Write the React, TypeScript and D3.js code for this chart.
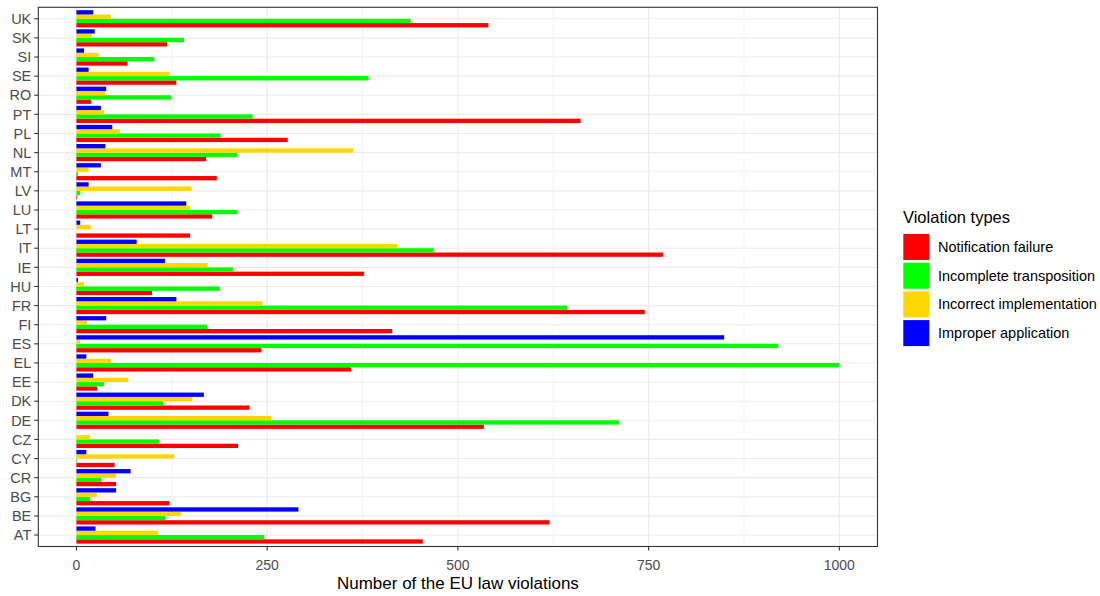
import React from "react";
import * as d3 from "d3";

const countries = ["AT","BE","BG","CR","CY","CZ","DE","DK","EE","EL","ES","FI","FR","HU","IE","IT","LT","LU","LV","MT","NL","PL","PT","RO","SE","SI","SK","UK"];
const seriesNames = ["Notification failure","Incomplete transposition","Incorrect implementation","Improper application"];
const seriesColors = ["#FF0000","#00FF00","#FFD700","#0000FF"];

const notification = [454,620,122,52,50,212,534,227,27,360,242,414,745,99,377,769,149,178,1,184,170,277,661,19,131,67,119,540];
const incomplete =   [246,116,18,33,1,108,711,114,36,1000,920,171,643,188,205,468,0,211,5,2,211,189,231,124,383,102,141,438];
const incorrect =    [107,137,27,52,128,18,255,152,68,45,5,14,244,10,172,421,19,149,151,16,363,57,36,38,122,29,20,45];
const improper =     [25,291,52,71,13,0,42,167,22,13,849,39,131,2,116,79,5,144,16,32,38,47,32,39,16,10,24,22];

const xTicks = [0,250,500,750,1000];
const xMinor = [125,375,625,875];

const W = 1100, H = 596;
const pl = 38.3, pr = 877.5, pt = 7.3, pb = 546.5;

export default function App() {
  const x = d3.scaleLinear().domain([-50, 1050]).range([pl, pr]);
  const y = d3.scaleLinear().domain([0.4, countries.length + 0.6]).range([pb, pt]);
  const inner = d3.scaleBand<number>().domain([0,1,2,3]).range([-0.45, 0.45]);
  const values = [notification, incomplete, incorrect, improper];
  const font = "'Liberation Sans', Arial, Helvetica, sans-serif";
  const bars: any[] = [];
  countries.forEach((c, i) => {
    values.forEach((vals, s) => {
      const v = vals[i];
      const pos = i + 1;
      const y0 = y(pos + inner(s)!);
      const y1 = y(pos + inner(s)! + inner.bandwidth());
      bars.push(
        <rect key={c + s} x={x(0)} width={Math.max(0, x(v) - x(0))} y={y1} height={y0 - y1} fill={seriesColors[s]} />
      );
    });
  });
  const keyY0 = 234, keyPitch = 28.7, keySize = 26;
  return (
    <svg width={W} height={H} style={{ position: "absolute", left: 0, top: 0, fontFamily: font }}>
      <rect x={0} y={0} width={W} height={H} fill="#fff" />
      <rect x={pl} y={pt} width={pr - pl} height={pb - pt} fill="#fff" />
      {xMinor.map(t => <line key={"mi" + t} x1={x(t)} x2={x(t)} y1={pt} y2={pb} stroke="#ebebeb" strokeWidth={0.6} />)}
      {xTicks.map(t => <line key={"ma" + t} x1={x(t)} x2={x(t)} y1={pt} y2={pb} stroke="#ebebeb" strokeWidth={1.1} />)}
      {countries.map((c, i) => <line key={"gy" + c} x1={pl} x2={pr} y1={y(i + 1)} y2={y(i + 1)} stroke="#ebebeb" strokeWidth={1.1} />)}
      {bars}
      <rect x={pl} y={pt} width={pr - pl} height={pb - pt} fill="none" stroke="#333333" strokeWidth={1.1} />
      {countries.map((c, i) => (
        <g key={"yl" + c}>
          <line x1={pl - 4} x2={pl} y1={y(i + 1)} y2={y(i + 1)} stroke="#333333" strokeWidth={1.1} />
          <text x={pl - 7} y={y(i + 1)} dy="0.36em" textAnchor="end" fontSize={14.5} fill="#4d4d4d">{c}</text>
        </g>
      ))}
      {xTicks.map(t => (
        <g key={"xl" + t}>
          <line x1={x(t)} x2={x(t)} y1={pb} y2={pb + 4} stroke="#333333" strokeWidth={1.1} />
          <text x={x(t)} y={569.5} textAnchor="middle" fontSize={14} fill="#4d4d4d">{t}</text>
        </g>
      ))}
      <text x={(pl + pr) / 2} y={589.3} textAnchor="middle" fontSize={17} fill="#000">Number of the EU law violations</text>
      <text x={903} y={223} fontSize={16.5} fill="#000">Violation types</text>
      {seriesNames.map((n, s) => (
        <g key={"lg" + s}>
          <rect x={903.3} y={keyY0 + s * keyPitch} width={keySize} height={keySize} fill={seriesColors[s]} />
          <text x={938} y={keyY0 + s * keyPitch + keySize / 2 + 5} fontSize={14.5} fill="#000">{n}</text>
        </g>
      ))}
    </svg>
  );
}
